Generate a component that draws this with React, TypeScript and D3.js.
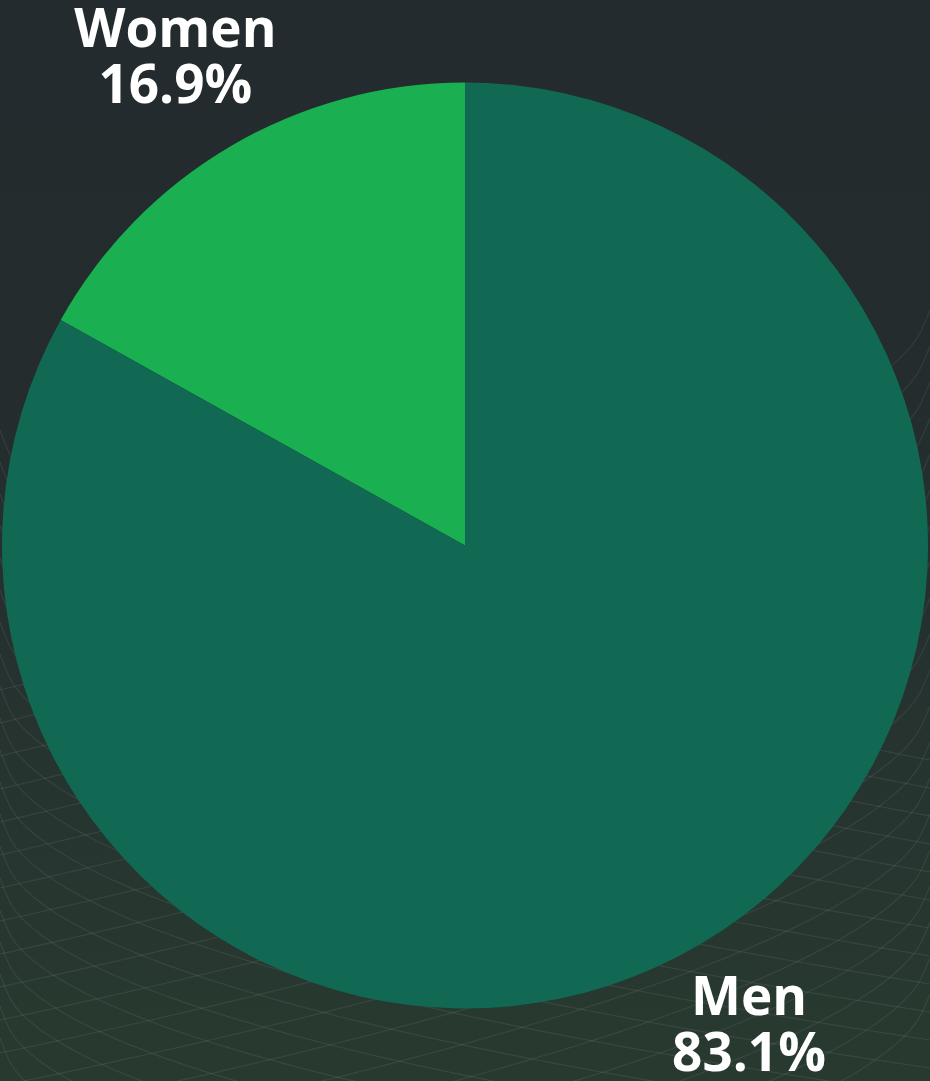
import React from "react";
import * as d3 from "d3";

const categories = ["Women", "Men"];
const values = [16.9, 83.1];
const colors = ["#1aaf50", "#116954"];

const W = 930;
const H = 1081;
const cx = 465;
const cy = 545.5;
const R = 463;
const labelR = 572;

export default function App() {
  const data = categories.map((c, i) => ({ name: c, value: values[i], color: colors[i] }));
  const total = d3.sum(values);
  const start = (-2 * Math.PI * values[0]) / total;
  const pie = d3
    .pie<any>()
    .value((d) => d.value)
    .sort(null)
    .startAngle(start)
    .endAngle(start + 2 * Math.PI);
  const arcs = pie(data);
  const arc = d3.arc<any>().innerRadius(0).outerRadius(R);
  const labelArc = d3.arc<any>().innerRadius(labelR).outerRadius(labelR);

  // decorative background mesh
  const xs = d3.range(0, W + 10, 10);
  const lineGen = d3.line<[number, number]>().curve(d3.curveBasis);
  const fam1 = d3.range(0, 20).map((k) =>
    lineGen(xs.map((x) => [x, 430 + k * 32 + 330 * Math.pow(x / W, 0.55) - 80 * (k / 20) * (x / W)] as [number, number]))
  );
  const fam2 = d3.range(0, 20).map((k) =>
    lineGen(xs.map((x) => [x, 310 + k * 36 + 380 * Math.pow((W - x) / W, 0.6) - 60 * (k / 20) * ((W - x) / W)] as [number, number]))
  );

  return (
    <svg width={W} height={H} style={{ position: "absolute", left: 0, top: 0, display: "block" }}>
      <defs>
        <linearGradient id="bg" x1="0" y1="0" x2="0" y2="1">
          <stop offset="0" stopColor="#232b2e" />
          <stop offset="0.35" stopColor="#242c2e" />
          <stop offset="1" stopColor="#283a30" />
        </linearGradient>
      </defs>
      <rect x={0} y={0} width={W} height={H} fill="url(#bg)" />
      <g fill="none" stroke="#ffffff" strokeOpacity={0.075} strokeWidth={1.2}>
        {fam1.map((d, i) => (
          <path key={"a" + i} d={d as string} />
        ))}
        {fam2.map((d, i) => (
          <path key={"b" + i} d={d as string} />
        ))}
      </g>
      <g transform={`translate(${cx},${cy})`}>
        {arcs.map((a, i) => (
          <path key={i} d={arc(a) as string} fill={a.data.color} />
        ))}
      </g>
      {arcs.map((a, i) => {
        const [lx, ly] = labelArc.centroid(a);
        const x = Math.max(175, Math.min(749, cx + lx));
        const y1 = Math.max(47, Math.min(1015, cy + ly - 6));
        return (
          <text
            key={"l" + i}
            x={x}
            y={y1}
            textAnchor="middle"
            fill="#ffffff"
            fontFamily="'Open Sans', 'Noto Sans', sans-serif"
            fontWeight={700}
            fontSize={53}
          >
            <tspan x={x} dy={0}>{a.data.name}</tspan>
            <tspan x={x} dy={56}>{`${a.data.value.toFixed(1)}%`}</tspan>
          </text>
        );
      })}
    </svg>
  );
}
